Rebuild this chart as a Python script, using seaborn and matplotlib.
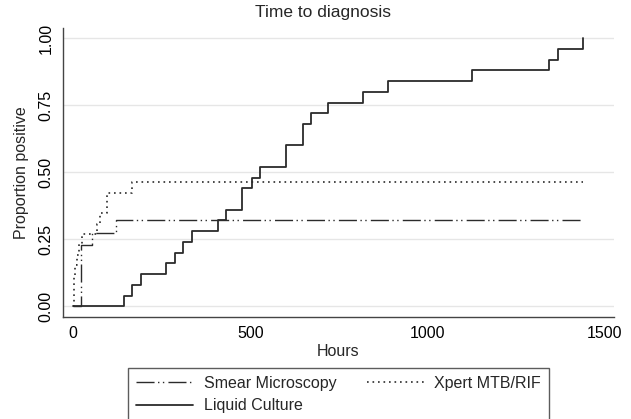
import numpy as np
import pandas as pd
import seaborn as sns
import matplotlib
matplotlib.use("Agg")
import matplotlib.pyplot as plt

# Kaplan-Meier style step data (hours, proportion positive)
smear_hours = [0, 23, 52, 122, 1441]
smear_prop = [0, 0.227, 0.273, 0.322, 0.322]

xpert_hours = [0, 1, 2, 3, 6, 10, 16, 24, 66, 76, 94, 167, 1441]
xpert_prop = [0, 0.038, 0.077, 0.115, 0.154, 0.192, 0.231, 0.269, 0.308, 0.346, 0.423, 0.462, 0.462]

liquid_hours = [0, 144, 167, 192, 263, 287, 311, 336, 410, 433, 478, 504, 527,
                600, 648, 673, 720, 818, 888, 1128, 1344, 1369, 1441]
liquid_prop = [0, 0.04, 0.08, 0.12, 0.16, 0.20, 0.24, 0.28, 0.32, 0.36, 0.44, 0.48, 0.52,
               0.60, 0.68, 0.72, 0.76, 0.80, 0.84, 0.88, 0.92, 0.96, 1.00]

x_ticks = [0, 500, 1000, 1500]
y_ticks = [0, 0.25, 0.5, 0.75, 1.0]
y_labels = ["0.00", "0.25", "0.50", "0.75", "1.00"]

sns.set_style("white")
plt.rcParams['font.family'] = ['Liberation Sans', 'DejaVu Sans']

fig = plt.figure(figsize=(6.31, 4.19), dpi=100)
ax = fig.add_axes([63 / 631, 102.3 / 419, (614 - 63) / 631, (391 - 102.3) / 419])

line_color = "#2b2b2b"

# Smear microscopy: long dash, dot, dot
sns.lineplot(x=smear_hours, y=smear_prop, ax=ax, drawstyle="steps-post",
             color=line_color, linewidth=1.0, estimator=None, sort=False)
smear_line = ax.lines[-1]
smear_line.set_dashes((13, 2.5, 1, 2.5, 1, 3))

# Xpert: dotted
sns.lineplot(x=xpert_hours, y=xpert_prop, ax=ax, drawstyle="steps-post",
             color=line_color, linewidth=1.2, estimator=None, sort=False)
xpert_line = ax.lines[-1]
xpert_line.set_dashes((1, 2.3))

# Liquid culture: solid
sns.lineplot(x=liquid_hours, y=liquid_prop, ax=ax, drawstyle="steps-post",
             color=line_color, linewidth=1.3, estimator=None, sort=False)
liquid_line = ax.lines[-1]

ax.set_xlim(-29, 1528)
ax.set_ylim(-0.039, 1.038)

ax.set_xticks(x_ticks)
ax.set_yticks(y_ticks)
ax.set_yticklabels(y_labels, rotation=90, va="center")
ax.tick_params(axis="both", direction="out", length=4, width=0.8, color="#444444",
               labelsize=11.5, labelcolor="black", pad=3)
ax.yaxis.grid(True, color="#e6e6e6", linewidth=1.0)
ax.xaxis.grid(False)
ax.set_axisbelow(True)

for side in ["top", "right"]:
    ax.spines[side].set_visible(False)
for side in ["left", "bottom"]:
    ax.spines[side].set_color("#444444")
    ax.spines[side].set_linewidth(1.0)

ax.set_xlabel("Hours", fontsize=11.5, labelpad=2)
ax.set_ylabel("Proportion positive", fontsize=11.5, labelpad=7)
fig.text(323 / 631, 1 - 13 / 419, "Time to diagnosis", ha="center", va="center", fontsize=12.5)

# Legend: row 1 smear + xpert, row 2 liquid culture (column-wise fill)
leg = fig.legend([smear_line, liquid_line, xpert_line],
                 ["Smear Microscopy", "Liquid Culture", "Xpert MTB/RIF"],
                 ncol=2, loc="upper center", bbox_to_anchor=(338.5 / 631, 1 - 368 / 419),
                 fontsize=11.5, frameon=True, fancybox=False, handlelength=3.6,
                 columnspacing=1.9, handletextpad=0.65, labelspacing=0.45,
                 borderpad=0.5, borderaxespad=0)
leg.get_frame().set_edgecolor("#333333")
leg.get_frame().set_linewidth(1.0)

fig.savefig("out.png", dpi=100)
